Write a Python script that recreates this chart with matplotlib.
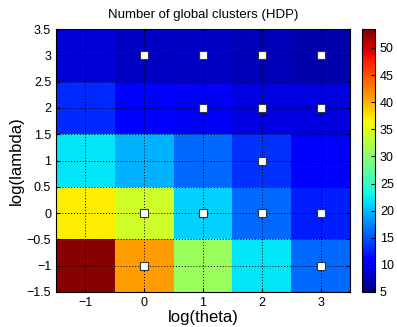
import numpy as np
import matplotlib
matplotlib.use("Agg")
import matplotlib.pyplot as plt

plt.rcParams['font.family'] = ['Liberation Sans', 'DejaVu Sans']

log_theta = [-1, 0, 1, 2, 3]
log_lambda = [-1, 0, 1, 2, 3]
# rows: log_lambda = -1, 0, 1, 2, 3 ; cols: log_theta = -1..3
clusters = np.array([
    [53, 41, 31, 22, 16],
    [37, 34, 21, 16, 12.5],
    [22, 19.5, 16, 13.5, 11],
    [13, 11, 10, 9.3, 9],
    [8.7, 8, 8, 7.5, 7],
])
marker_theta = [0, 1, 2, 3, 1, 2, 3, 2, 0, 1, 2, 3, 0, 3]
marker_lambda = [3, 3, 3, 3, 2, 2, 2, 1, 0, 0, 0, 0, -1, -1]
cbar_ticks = [5, 10, 15, 20, 25, 30, 35, 40, 45, 50]

fig = plt.figure(figsize=(3.97, 3.27), dpi=100)
ax = fig.add_axes([56/397, 1-292/327, 294/397, 263/327])
cax = fig.add_axes([362/397, 1-292/327, 13/397, 263/327])

x = np.array(log_theta, dtype=float)
y = np.array(log_lambda, dtype=float)
xe = np.concatenate([x - 0.5, [x[-1] + 0.5]])
ye = np.concatenate([y - 0.5, [y[-1] + 0.5]])
mesh = ax.pcolormesh(xe, ye, clusters, cmap='jet', vmin=5, vmax=53.5)

ax.set_xlim(-1.5, 3.5)
ax.set_ylim(-1.5, 3.5)
ax.set_xticks(log_theta)
ax.set_yticks(np.arange(-1.5, 3.51, 0.5))
ax.set_xticklabels(['\u22121', '0', '1', '2', '3'])
ax.set_yticklabels([('\u2212' + f'{abs(v):g}') if v < 0 else f'{v:g}' for v in np.arange(-1.5, 3.51, 0.5)])
ax.grid(True, color='black', linestyle=(0, (1, 2)), linewidth=0.7)
ax.set_axisbelow(False)
ax.tick_params(direction='in', labelsize=9, length=3, top=True, right=True)

ax.plot(marker_theta, marker_lambda, linestyle='none', marker='s', markersize=5.5,
        markerfacecolor='white', markeredgecolor='#333333', markeredgewidth=0.8, zorder=5)

ax.set_xlabel('log(theta)', fontsize=12, labelpad=1)
ax.set_ylabel('log(lambda)', fontsize=12, labelpad=2)
ax.set_title('Number of global clusters (HDP)', fontsize=9.5, pad=8)

cb = fig.colorbar(mesh, cax=cax, ticks=cbar_ticks)
cb.ax.tick_params(direction='in', labelsize=9, length=3)
cb.outline.set_linewidth(0.8)

fig.savefig('out.png', dpi=100)
